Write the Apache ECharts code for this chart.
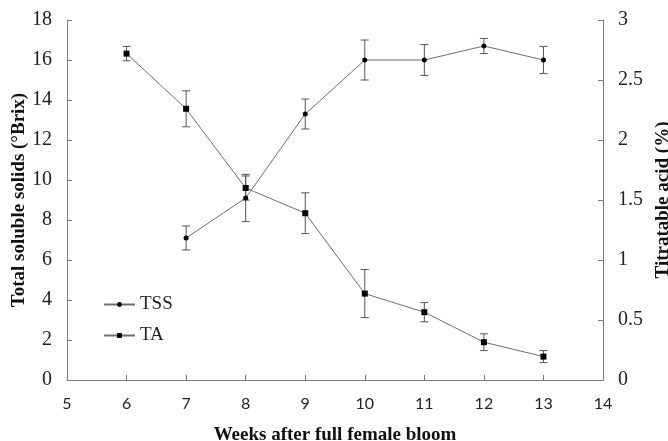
<!DOCTYPE html>
<html>
<head>
<meta charset="utf-8">
<script src="https://cdn.jsdelivr.net/npm/echarts@6/dist/echarts.min.js"></script>
<style>
  html, body { margin: 0; padding: 0; background: #fff; }
  #chart { width: 668px; height: 441px; }
</style>
</head>
<body>
<div id="chart"></div>
<script>
// weeks after full female bloom
var tssWeeks = [7, 8, 9, 10, 11, 12, 13];
var tssValues = [7.1, 9.1, 13.3, 16.0, 16.0, 16.7, 16.0];
var tssErr = [0.6, 1.18, 0.75, 1.0, 0.77, 0.38, 0.68];

var taWeeks = [6, 7, 8, 9, 10, 11, 12, 13];
var taValues = [2.72, 2.26, 1.6, 1.39, 0.72, 0.565, 0.315, 0.195];
var taErr = [0.06, 0.15, 0.1, 0.17, 0.2, 0.08, 0.07, 0.05];

var serif = '"Liberation Serif", "Times New Roman", serif';
var lineColor = '#6e6e6e';
var axisColor = '#7a7a7a';

function pairs(xs, ys) {
  return xs.map(function (x, i) { return [x, ys[i]]; });
}
function errData(xs, ys, es) {
  return xs.map(function (x, i) { return [x, ys[i] - es[i], ys[i] + es[i]]; });
}

function renderErr(params, api) {
  var lo = api.coord([api.value(0), api.value(1)]);
  var hi = api.coord([api.value(0), api.value(2)]);
  var w = 4;
  var st = { stroke: '#555', lineWidth: 1 };
  return {
    type: 'group',
    children: [
      { type: 'line', shape: { x1: lo[0], y1: lo[1], x2: hi[0], y2: hi[1] }, style: st },
      { type: 'line', shape: { x1: lo[0] - w, y1: lo[1], x2: lo[0] + w, y2: lo[1] }, style: st },
      { type: 'line', shape: { x1: hi[0] - w, y1: hi[1], x2: hi[0] + w, y2: hi[1] }, style: st }
    ]
  };
}

var chart = echarts.init(document.getElementById('chart'));
chart.setOption({
  animation: false,
  backgroundColor: '#fff',
  grid: { left: 67, right: 65, top: 20, bottom: 61, outerBoundsMode: 'none', containLabel: false },
  legend: {
    orient: 'vertical',
    left: 98,
    top: 290,
    itemGap: 12,
    itemWidth: 31,
    itemHeight: 6,
    textStyle: { fontFamily: serif, fontSize: 19, color: '#222' },
    data: ['TSS', 'TA']
  },
  xAxis: {
    type: 'value',
    min: 5, max: 14, interval: 1,
    name: 'Weeks after full female bloom',
    nameLocation: 'middle',
    nameGap: 46,
    nameTextStyle: { fontFamily: serif, fontSize: 19, fontWeight: 'bold', color: '#111' },
    axisLine: { lineStyle: { color: axisColor } },
    axisTick: { inside: true, length: 5, lineStyle: { color: axisColor } },
    axisLabel: { fontFamily: 'Lato', fontSize: 16, color: '#222', margin: 16 },
    splitLine: { show: false }
  },
  yAxis: [
    {
      type: 'value',
      min: 0, max: 18, interval: 2,
      name: 'Total soluble solids (\u00b0Brix)',
      nameLocation: 'middle',
      nameGap: 38,
      nameMoveOverlap: false,
      nameTextStyle: { fontFamily: serif, fontSize: 19, fontWeight: 'bold', color: '#111' },
      axisLine: { show: true, lineStyle: { color: axisColor } },
      axisTick: { show: true, inside: true, length: 5, lineStyle: { color: axisColor } },
      axisLabel: { fontFamily: serif, fontSize: 20, color: '#222', margin: 15 },
      splitLine: { show: false }
    },
    {
      type: 'value',
      min: 0, max: 3, interval: 0.5,
      position: 'right',
      name: 'Titratable acid (%)',
      nameLocation: 'middle',
      nameGap: 50,
      nameRotate: 90,
      nameTextStyle: { fontFamily: serif, fontSize: 19, fontWeight: 'bold', color: '#111' },
      axisLine: { show: true, lineStyle: { color: axisColor } },
      axisTick: { show: true, inside: true, length: 5, lineStyle: { color: axisColor } },
      axisLabel: { fontFamily: serif, fontSize: 20, color: '#222', margin: 15 },
      splitLine: { show: false }
    }
  ],
  series: [
    {
      type: 'custom', yAxisIndex: 0, z: 1,
      renderItem: renderErr,
      data: errData(tssWeeks, tssValues, tssErr)
    },
    {
      type: 'custom', yAxisIndex: 1, z: 1,
      renderItem: renderErr,
      data: errData(taWeeks, taValues, taErr)
    },
    {
      name: 'TSS', type: 'line', yAxisIndex: 0, z: 3,
      symbol: 'circle', symbolSize: 5, showAllSymbol: true,
      lineStyle: { color: lineColor, width: 1 },
      itemStyle: { color: '#000' },
      data: pairs(tssWeeks, tssValues)
    },
    {
      name: 'TA', type: 'line', yAxisIndex: 1, z: 3,
      symbol: 'rect', symbolSize: 6, showAllSymbol: true,
      lineStyle: { color: lineColor, width: 1 },
      itemStyle: { color: '#000' },
      data: pairs(taWeeks, taValues)
    }
  ]
});
</script>
</body>
</html>
